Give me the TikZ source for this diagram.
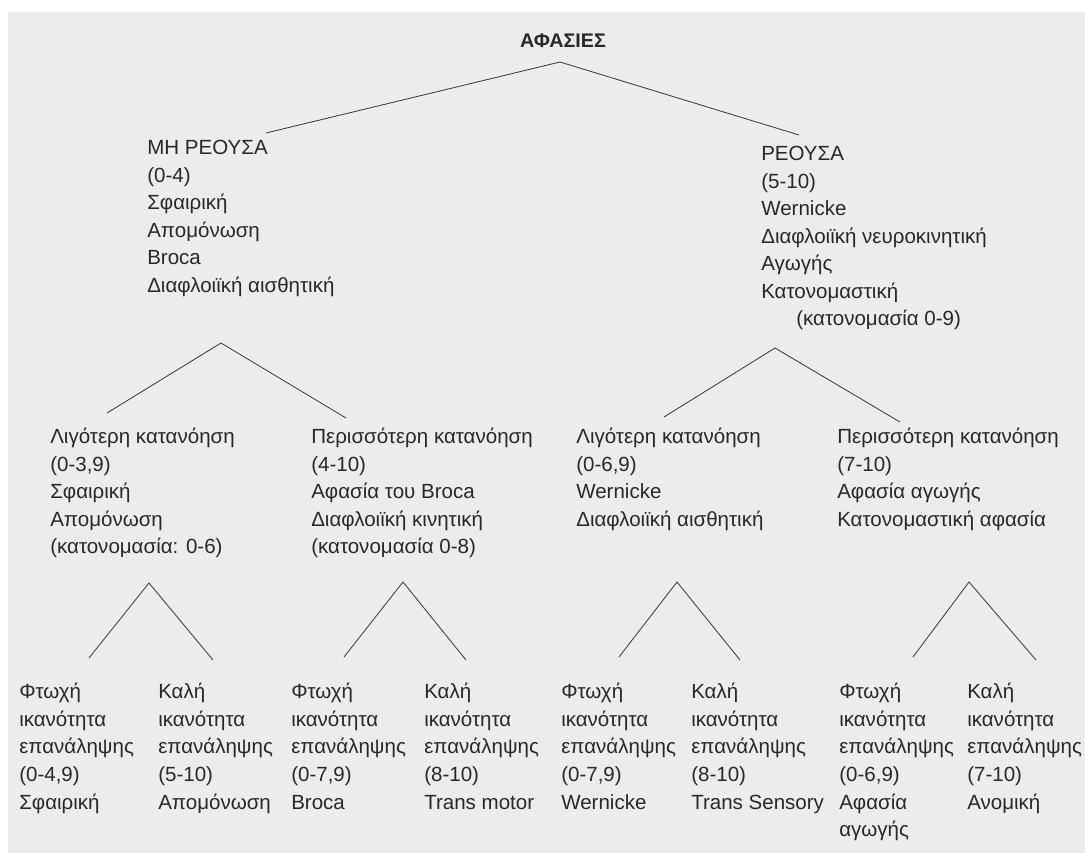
\documentclass[tikz,border=0pt]{standalone}
\usepackage{fontspec}
\setmainfont{Liberation Sans}
\usepackage{tikz}
\usepackage{xcolor}
\definecolor{seite}{RGB}{236,236,236}
\definecolor{tinte}{RGB}{40,40,40}
\tikzset{
  klasse/.style={anchor=north west, align=left, inner sep=0pt, text=tinte,
    font=\fontsize{14.6}{19.6}\selectfont, execute at begin node=\strut},
  ast/.style={draw=tinte!90, line width=0.6pt}
}

\begin{document}
\begin{tikzpicture}[x=0.025cm, y=-0.025cm]
			\useasboundingbox (0,0) rectangle (1085,853);
			\fill[seite] (8,12) rectangle (1085,853);
			% Wurzel
			\node[anchor=base, inner sep=0pt, text=tinte, font=\fontsize{14}{16}\selectfont\bfseries] (aphasien) at (563,48) {ΑΦΑΣΙΕΣ};
			% Zweite Ebene
			\node[klasse] (nichtfl) at (147,140) {
				ΜΗ ΡΕΟΥΣΑ\\
				(0-4)\\
				Σφαιρική\\
				Απομόνωση\\
				Broca\\
				Διαφλοιϊκή αισθητική
			};
			\node[klasse] (fluent) at (761,146) {
				ΡΕΟΥΣΑ\\
				(5-10)\\
				Wernicke\\
				Διαφλοιϊκή νευροκινητική\\
				Αγωγής\\
				Κατονομαστική\\
				\hspace*{0.875cm}(κατονομασία 0-9)
			};
			% Dritte Ebene: Verstehen
			\node[klasse] (nfweniger) at (50,428) {
				Λιγότερη κατανόηση\\
				(0-3,9)\\
				Σφαιρική\\
				Απομόνωση\\
				(κατονομασία: 0-6)
			};
			\node[klasse] (nfmehr) at (311,428) {
				Περισσότερη κατανόηση\\
				(4-10)\\
				Αφασία του Broca\\
				Διαφλοιϊκή κινητική\\
				(κατονομασία 0-8)
			};
			\node[klasse] (flweniger) at (576,428) {
				Λιγότερη κατανόηση\\
				(0-6,9)\\
				Wernicke\\
				Διαφλοιϊκή αισθητική
			};
			\node[klasse] (flmehr) at (837,428) {
				Περισσότερη κατανόηση\\
				(7-10)\\
				Αφασία αγωγής\\
				Κατονομαστική αφασία
			};
			% Vierte Ebene: Wiederholen
			\node[klasse] (r1) at (19,683) {Φτωχή\\ικανότητα\\επανάληψης\\(0-4,9)\\Σφαιρική};
			\node[klasse] (r2) at (158,683) {Καλή\\ικανότητα\\επανάληψης\\(5-10)\\Απομόνωση};
			\node[klasse] (r3) at (291,683) {Φτωχή\\ικανότητα\\επανάληψης\\(0-7,9)\\Broca};
			\node[klasse] (r4) at (424,683) {Καλή\\ικανότητα\\επανάληψης\\(8-10)\\Trans motor};
			\node[klasse] (r5) at (561,683) {Φτωχή\\ικανότητα\\επανάληψης\\(0-7,9)\\Wernicke};
			\node[klasse] (r6) at (691,683) {Καλή\\ικανότητα\\επανάληψης\\(8-10)\\Trans Sensory};
			\node[klasse] (r7) at (839,683) {Φτωχή\\ικανότητα\\επανάληψης\\(0-6,9)\\Αφασία\\αγωγής};
			\node[klasse] (r8) at (967,683) {Καλή\\ικανότητα\\επανάληψης\\(7-10)\\Ανομική};
			% Verzweigungspunkte
			\coordinate (s0) at (560,62);  \coordinate (s0l) at (266,133); \coordinate (s0r) at (799,135);
			\coordinate (s1) at (221,343); \coordinate (s1l) at (107,413); \coordinate (s1r) at (346,418);
			\coordinate (s2) at (775,348); \coordinate (s2l) at (664,417); \coordinate (s2r) at (900,422);
			\coordinate (s3) at (149,583); \coordinate (s3l) at (89,658);  \coordinate (s3r) at (213,660);
			\coordinate (s4) at (403,582); \coordinate (s4l) at (344,657); \coordinate (s4r) at (466,660);
			\coordinate (s5) at (677,582); \coordinate (s5l) at (619,657); \coordinate (s5r) at (740,660);
			\coordinate (s6) at (969,582); \coordinate (s6l) at (913,657); \coordinate (s6r) at (1036,660);
			\foreach \k in {0,...,6} {
				\draw[ast] (s\k l) -- (s\k) -- (s\k r);
			}
		\end{tikzpicture}
\end{document}
